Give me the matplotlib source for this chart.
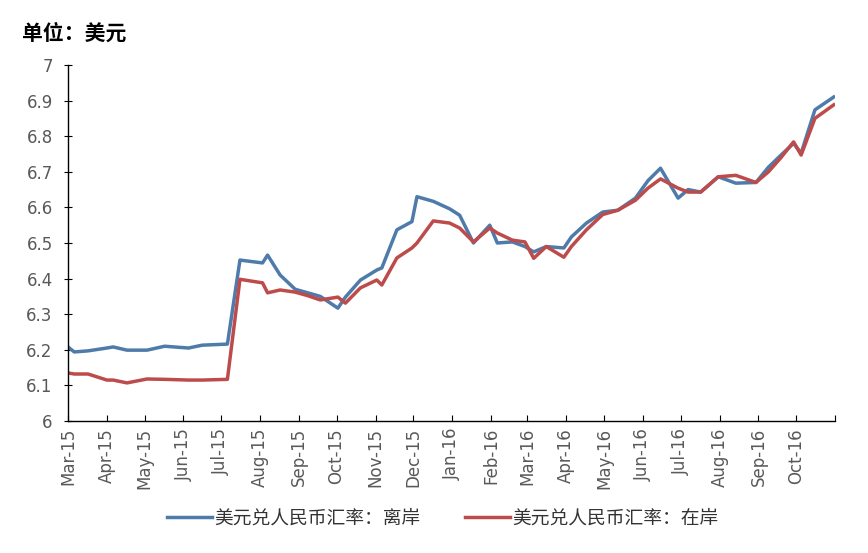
import numpy as np
import pandas as pd
import matplotlib
matplotlib.use('Agg')
import matplotlib.pyplot as plt

# data
dates = ['2015-03-01', '2015-03-06', '2015-03-17', '2015-04-01', '2015-04-06', '2015-04-17',
         '2015-05-03', '2015-05-17', '2015-06-05', '2015-06-16', '2015-07-06', '2015-07-16',
         '2015-08-03', '2015-08-07', '2015-08-17', '2015-08-29', '2015-09-08', '2015-09-18',
         '2015-10-02', '2015-10-08', '2015-10-20', '2015-11-02', '2015-11-06', '2015-11-18',
         '2015-11-30', '2015-12-04', '2015-12-17', '2015-12-30', '2016-01-07', '2016-01-18',
         '2016-01-31', '2016-02-06', '2016-02-18', '2016-02-28', '2016-03-06', '2016-03-16',
         '2016-03-30', '2016-04-05', '2016-04-17', '2016-04-30', '2016-05-12', '2016-05-26',
         '2016-06-05', '2016-06-15', '2016-06-29', '2016-07-07', '2016-07-17', '2016-07-31',
         '2016-08-14', '2016-08-30', '2016-09-09', '2016-09-19', '2016-09-29', '2016-10-05',
         '2016-10-16', '2016-10-31']

offshore = [6.208, 6.194, 6.197, 6.205, 6.208, 6.199,
            6.199, 6.210, 6.205, 6.213, 6.216, 6.452,
            6.444, 6.466, 6.410, 6.370, 6.360, 6.350,
            6.317, 6.348, 6.396, 6.424, 6.430, 6.537,
            6.560, 6.630, 6.617, 6.596, 6.578, 6.500,
            6.550, 6.500, 6.503, 6.490, 6.475, 6.490,
            6.486, 6.517, 6.556, 6.587, 6.592, 6.626,
            6.675, 6.710, 6.626, 6.650, 6.643, 6.686,
            6.668, 6.670, 6.713, 6.747, 6.780, 6.752,
            6.874, 6.910]

onshore = [6.135, 6.132, 6.132, 6.115, 6.115, 6.107,
           6.118, 6.117, 6.115, 6.115, 6.117, 6.398,
           6.388, 6.360, 6.368, 6.362, 6.352, 6.340,
           6.348, 6.331, 6.374, 6.396, 6.382, 6.458,
           6.486, 6.500, 6.562, 6.556, 6.542, 6.503,
           6.542, 6.528, 6.508, 6.503, 6.457, 6.490,
           6.460, 6.490, 6.537, 6.580, 6.592, 6.620,
           6.654, 6.680, 6.654, 6.643, 6.643, 6.686,
           6.690, 6.670, 6.700, 6.740, 6.784, 6.747,
           6.850, 6.888]

tick_months = pd.date_range('2015-03-01', '2016-11-01', freq='MS')
tick_labels = [d.strftime('%b-%y') for d in tick_months[:-1]] + ['']

labels = ['美元兑人民币汇率：离岸', '美元兑人民币汇率：在岸']
colors = ['#4F7BAA', '#BE4B4B']

cjk = ['Noto Sans CJK SC', 'DejaVu Sans']
x = pd.to_datetime(dates)

fig = plt.figure(figsize=(8.68, 5.53), dpi=100)
ax = fig.add_axes([0.0783, 0.2387, 0.8837, 0.6438])

ax.plot(x, offshore, color=colors[0], lw=2.5, label=labels[0])
ax.plot(x, onshore, color=colors[1], lw=2.5, label=labels[1])

ax.set_ylim(6, 7)
ax.set_yticks(np.arange(6, 7.01, 0.1))
ax.set_yticklabels(['6', '6.1', '6.2', '6.3', '6.4', '6.5', '6.6', '6.7', '6.8', '6.9', '7'])
ax.set_xlim(tick_months[0], tick_months[-1])
ax.set_xticks(tick_months)
ax.set_xticklabels(tick_labels, rotation=90)

for s in ['top', 'right']:
    ax.spines[s].set_visible(False)
for s in ['left', 'bottom']:
    ax.spines[s].set_linewidth(1.0)
    ax.spines[s].set_color('black')

ax.tick_params(axis='y', direction='inout', length=6, labelsize=12, labelcolor='#595959', pad=8)
ax.tick_params(axis='x', direction='in', length=4.5, labelsize=12, labelcolor='#595959', pad=5)

fig.text(0.025, 0.94, '单位：美元', family=cjk, fontsize=15, fontweight='bold', ha='left', va='center')

leg = fig.legend(loc='center', bbox_to_anchor=(0.51, 0.063), ncol=2, frameon=False,
                 prop={'family': cjk, 'size': 13.5}, handlelength=2.4, handletextpad=0.1,
                 columnspacing=2.4)
for t in leg.get_texts():
    t.set_color('#333333')

fig.savefig('out.png', dpi=100)
